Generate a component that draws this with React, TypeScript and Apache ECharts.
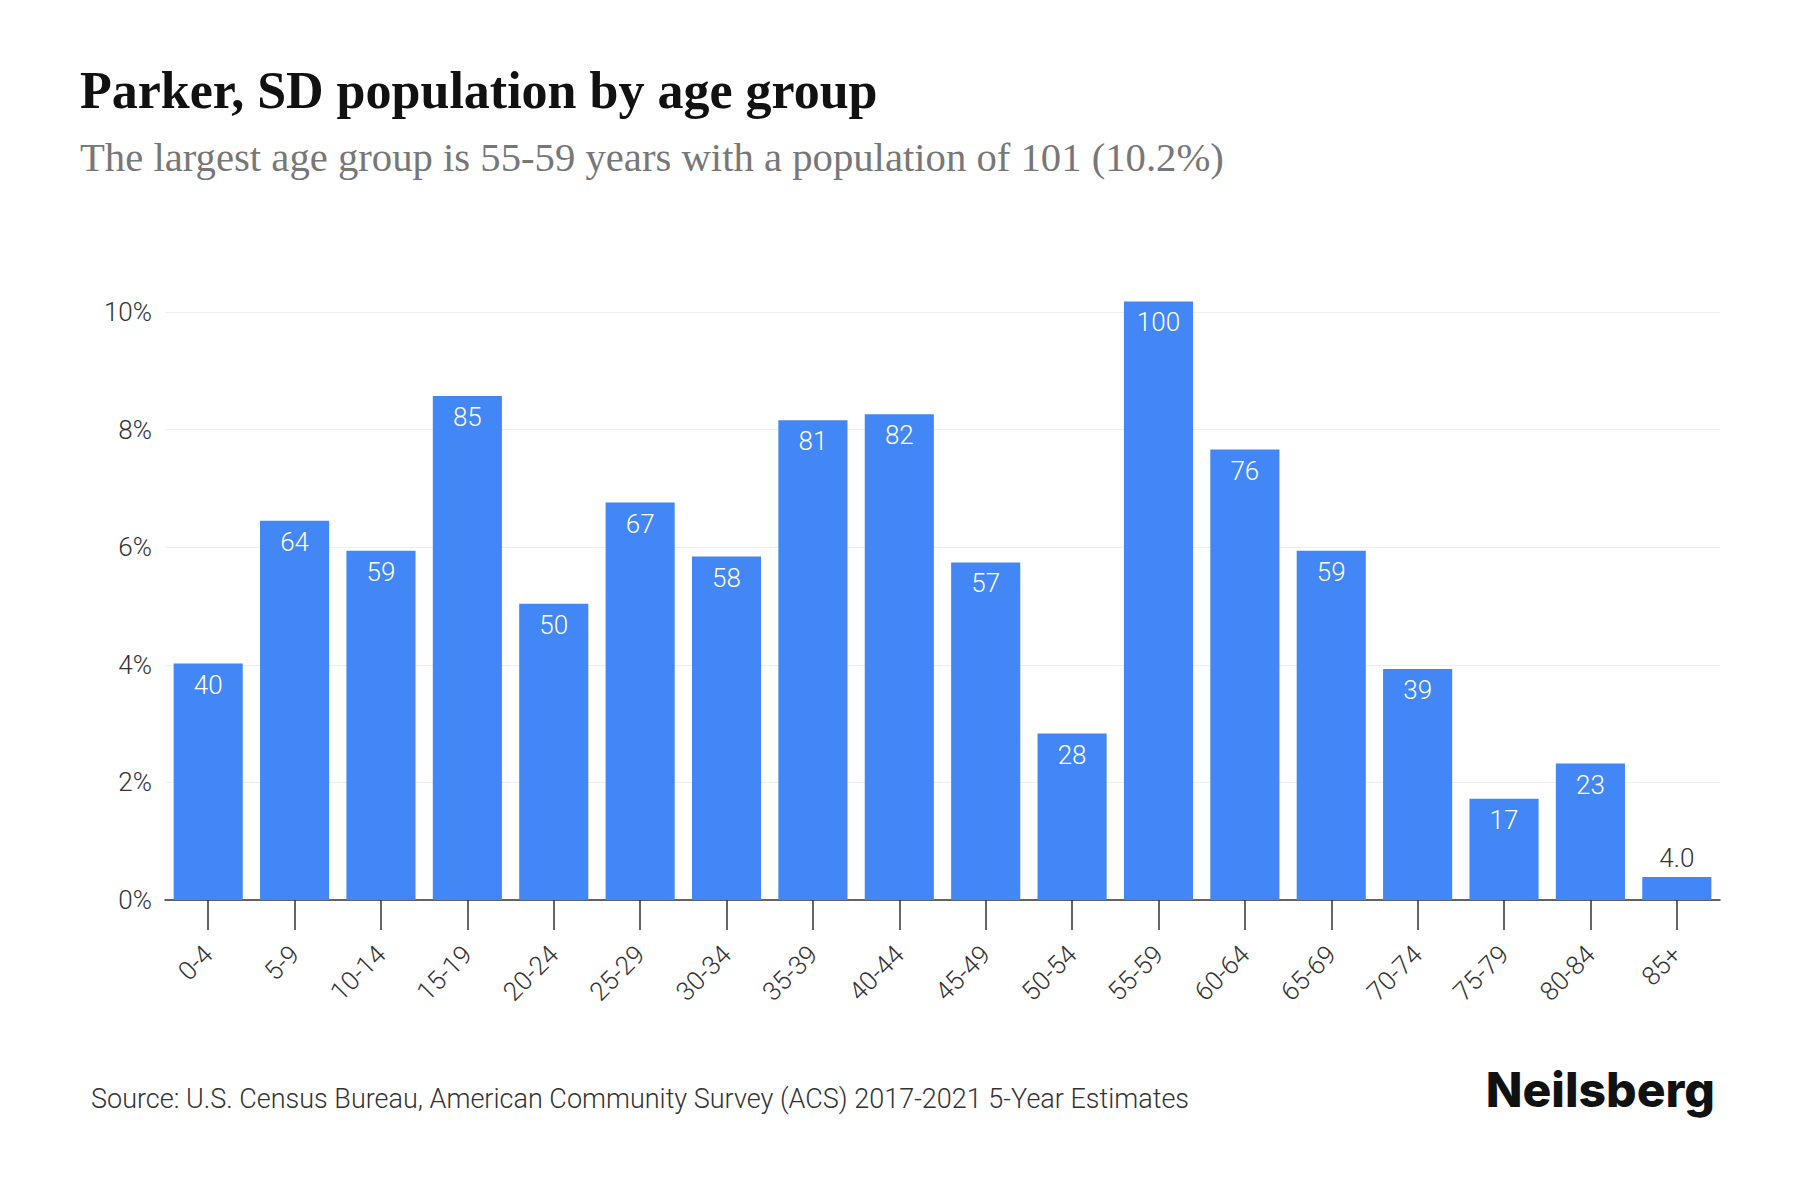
import React, { useEffect, useRef } from "react";
import * as echarts from "echarts";

const categories = ["0-4", "5-9", "10-14", "15-19", "20-24", "25-29", "30-34", "35-39", "40-44", "45-49", "50-54", "55-59", "60-64", "65-69", "70-74", "75-79", "80-84", "85+"];
const populationLabels = ["40", "64", "59", "85", "50", "67", "58", "81", "82", "57", "28", "100", "76", "59", "39", "17", "23", "4.0"];
const sharePercent = [4.02, 6.45, 5.94, 8.57, 5.04, 6.76, 5.84, 8.16, 8.26, 5.74, 2.83, 10.18, 7.66, 5.94, 3.93, 1.72, 2.32, 0.39];
const yTicks = [0, 2, 4, 6, 8, 10];
const outsideLabelIndex = [17];

const TITLE = "Parker, SD population by age group";
const SUBTITLE = "The largest age group is 55-59 years with a population of 101 (10.2%)";
const SOURCE = "Source: U.S. Census Bureau, American Community Survey (ACS) 2017-2021 5-Year Estimates";

export default function App() {
  const ref = useRef<HTMLDivElement>(null);
  useEffect(() => {
    if (!ref.current) return;
    const chart = echarts.init(ref.current, null, { renderer: "svg" });
    const data = sharePercent.map((v, i) => {
      const item: any = { value: v };
      if (outsideLabelIndex.includes(i)) {
        item.label = { position: "top", color: "#333333", distance: 6 };
      }
      return item;
    });
    chart.setOption({
      animation: false,
      backgroundColor: "#ffffff",
      title: [
        {
          text: TITLE,
          left: 75,
          top: 59,
          textStyle: { fontFamily: "Liberation Serif", fontWeight: "bold", fontSize: 52, color: "#111111" },
        },
        {
          text: SUBTITLE,
          left: 75,
          top: 132,
          textStyle: { fontFamily: "Liberation Serif", fontWeight: "normal", fontSize: 40.7, color: "#777777" },
        },
        {
          text: SOURCE,
          left: 86,
          top: 1080,
          textStyle: { fontFamily: "Roboto", fontWeight: 300, fontSize: 27, color: "#333333" },
        },
        {
          text: "Neilsberg",
          right: 80,
          top: 1060,
          textStyle: { fontFamily: "Inter", fontWeight: 800, fontSize: 48, color: "#111111" },
        },
      ],
      grid: { left: 165, right: 80, top: 312, bottom: 300, containLabel: false },
      xAxis: {
        type: "category",
        data: categories,
        axisLine: { show: true, lineStyle: { color: "#333333", width: 1.5 } },
        axisTick: { show: true, alignWithLabel: true, length: 30, lineStyle: { color: "#333333", width: 1.5 } },
        axisLabel: {
          rotate: 45,
          margin: 50,
          fontFamily: "Roboto",
          fontWeight: 300,
          fontSize: 26,
          color: "#333333",
          interval: 0,
        },
      },
      yAxis: {
        type: "value",
        min: yTicks[0],
        max: yTicks[yTicks.length - 1],
        interval: 2,
        axisLine: { show: false },
        axisTick: { show: false },
        splitLine: { show: true, lineStyle: { color: "#eeeeee", width: 1 } },
        axisLabel: {
          formatter: "{value}%",
          margin: 13,
          fontFamily: "Roboto",
          fontWeight: 300,
          fontSize: 26,
          color: "#333333",
        },
      },
      series: [
        {
          type: "bar",
          data,
          clip: false,
          barCategoryGap: "20%",
          itemStyle: { color: "#4287f5" },
          label: {
            show: true,
            position: "insideTop",
            distance: 8,
            formatter: (p: any) => populationLabels[p.dataIndex],
            fontFamily: "Roboto",
            fontWeight: 300,
            fontSize: 26,
            color: "#ffffff",
          },
        },
      ],
    });
    return () => chart.dispose();
  }, []);
  return <div ref={ref} style={{ position: "absolute", left: 0, top: 0, width: 1800, height: 1200 }} />;
}
